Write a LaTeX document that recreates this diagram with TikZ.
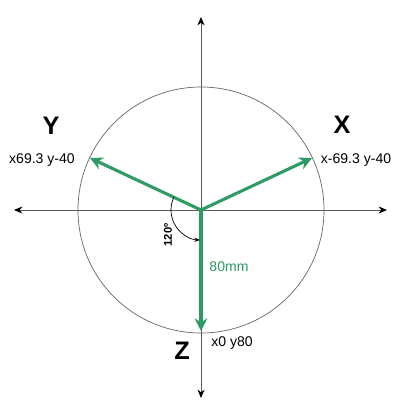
\documentclass[tikz,border=0pt]{standalone}
\usepackage{fontspec}
\setmainfont{Liberation Sans}
\usetikzlibrary{arrows.meta}
\definecolor{axisgreen}{RGB}{46,154,100}
\begin{document}
\begin{tikzpicture}[x=0.025cm, y=-0.025cm,
    axis/.style={draw=gray!70!black, line width=0.6pt, -{Stealth[black, length=6pt, width=5pt]}},
    vec/.style={draw=axisgreen, line width=2.2pt, -{Stealth[length=9pt, width=9pt]}},
    big/.style={font=\fontsize{18}{20}\selectfont\bfseries},
    small/.style={font=\fontsize{10}{12}\selectfont}]
    \useasboundingbox (0,0) rectangle (400,400);
    \coordinate (o) at (201,210);
    \coordinate (left) at (14,210);
    \coordinate (right) at (387,210);
    \coordinate (top) at (201,17);
    \coordinate (bottom) at (201,398);
    \coordinate (ytip) at (90,158);
    \coordinate (xtip) at (312,158);
    \coordinate (ztip) at (201,331);

    \draw[axis] (o) -- (left);
    \draw[axis] (o) -- (right);
    \draw[axis] (o) -- (top);
    \draw[axis] (o) -- (bottom);
    \draw[gray!80!black, line width=0.5pt] (o) circle[radius=123];

    \draw[vec] (o) -- (ytip);
    \draw[vec] (o) -- (xtip);
    \draw[vec] (o) -- (ztip);

    % angle between Y and Z
    \draw[black, line width=0.5pt, -{Stealth[length=4pt, width=3pt]}] ([shift=(205:30)] o) arc[start angle=205, end angle=92, radius=30];

    \node[big] (ylabel) at (51,126) {Y};
    \node[small] (ypos) at (42,160) {x69.3 y-40};
    \node[big] (xlabel) at (342,125) {X};
    \node[small] (xpos) at (356,160) {x-69.3 y-40};
    \node[big] (zlabel) at (182,351) {Z};
    \node[small] (zpos) at (232,343) {x0 y80};
    \node[small, text=axisgreen] (len) at (229,267) {80mm};
    \node[font=\fontsize{8}{10}\selectfont\bfseries, rotate=90] (angle) at (168,235) {120º};
\end{tikzpicture}
\end{document}
